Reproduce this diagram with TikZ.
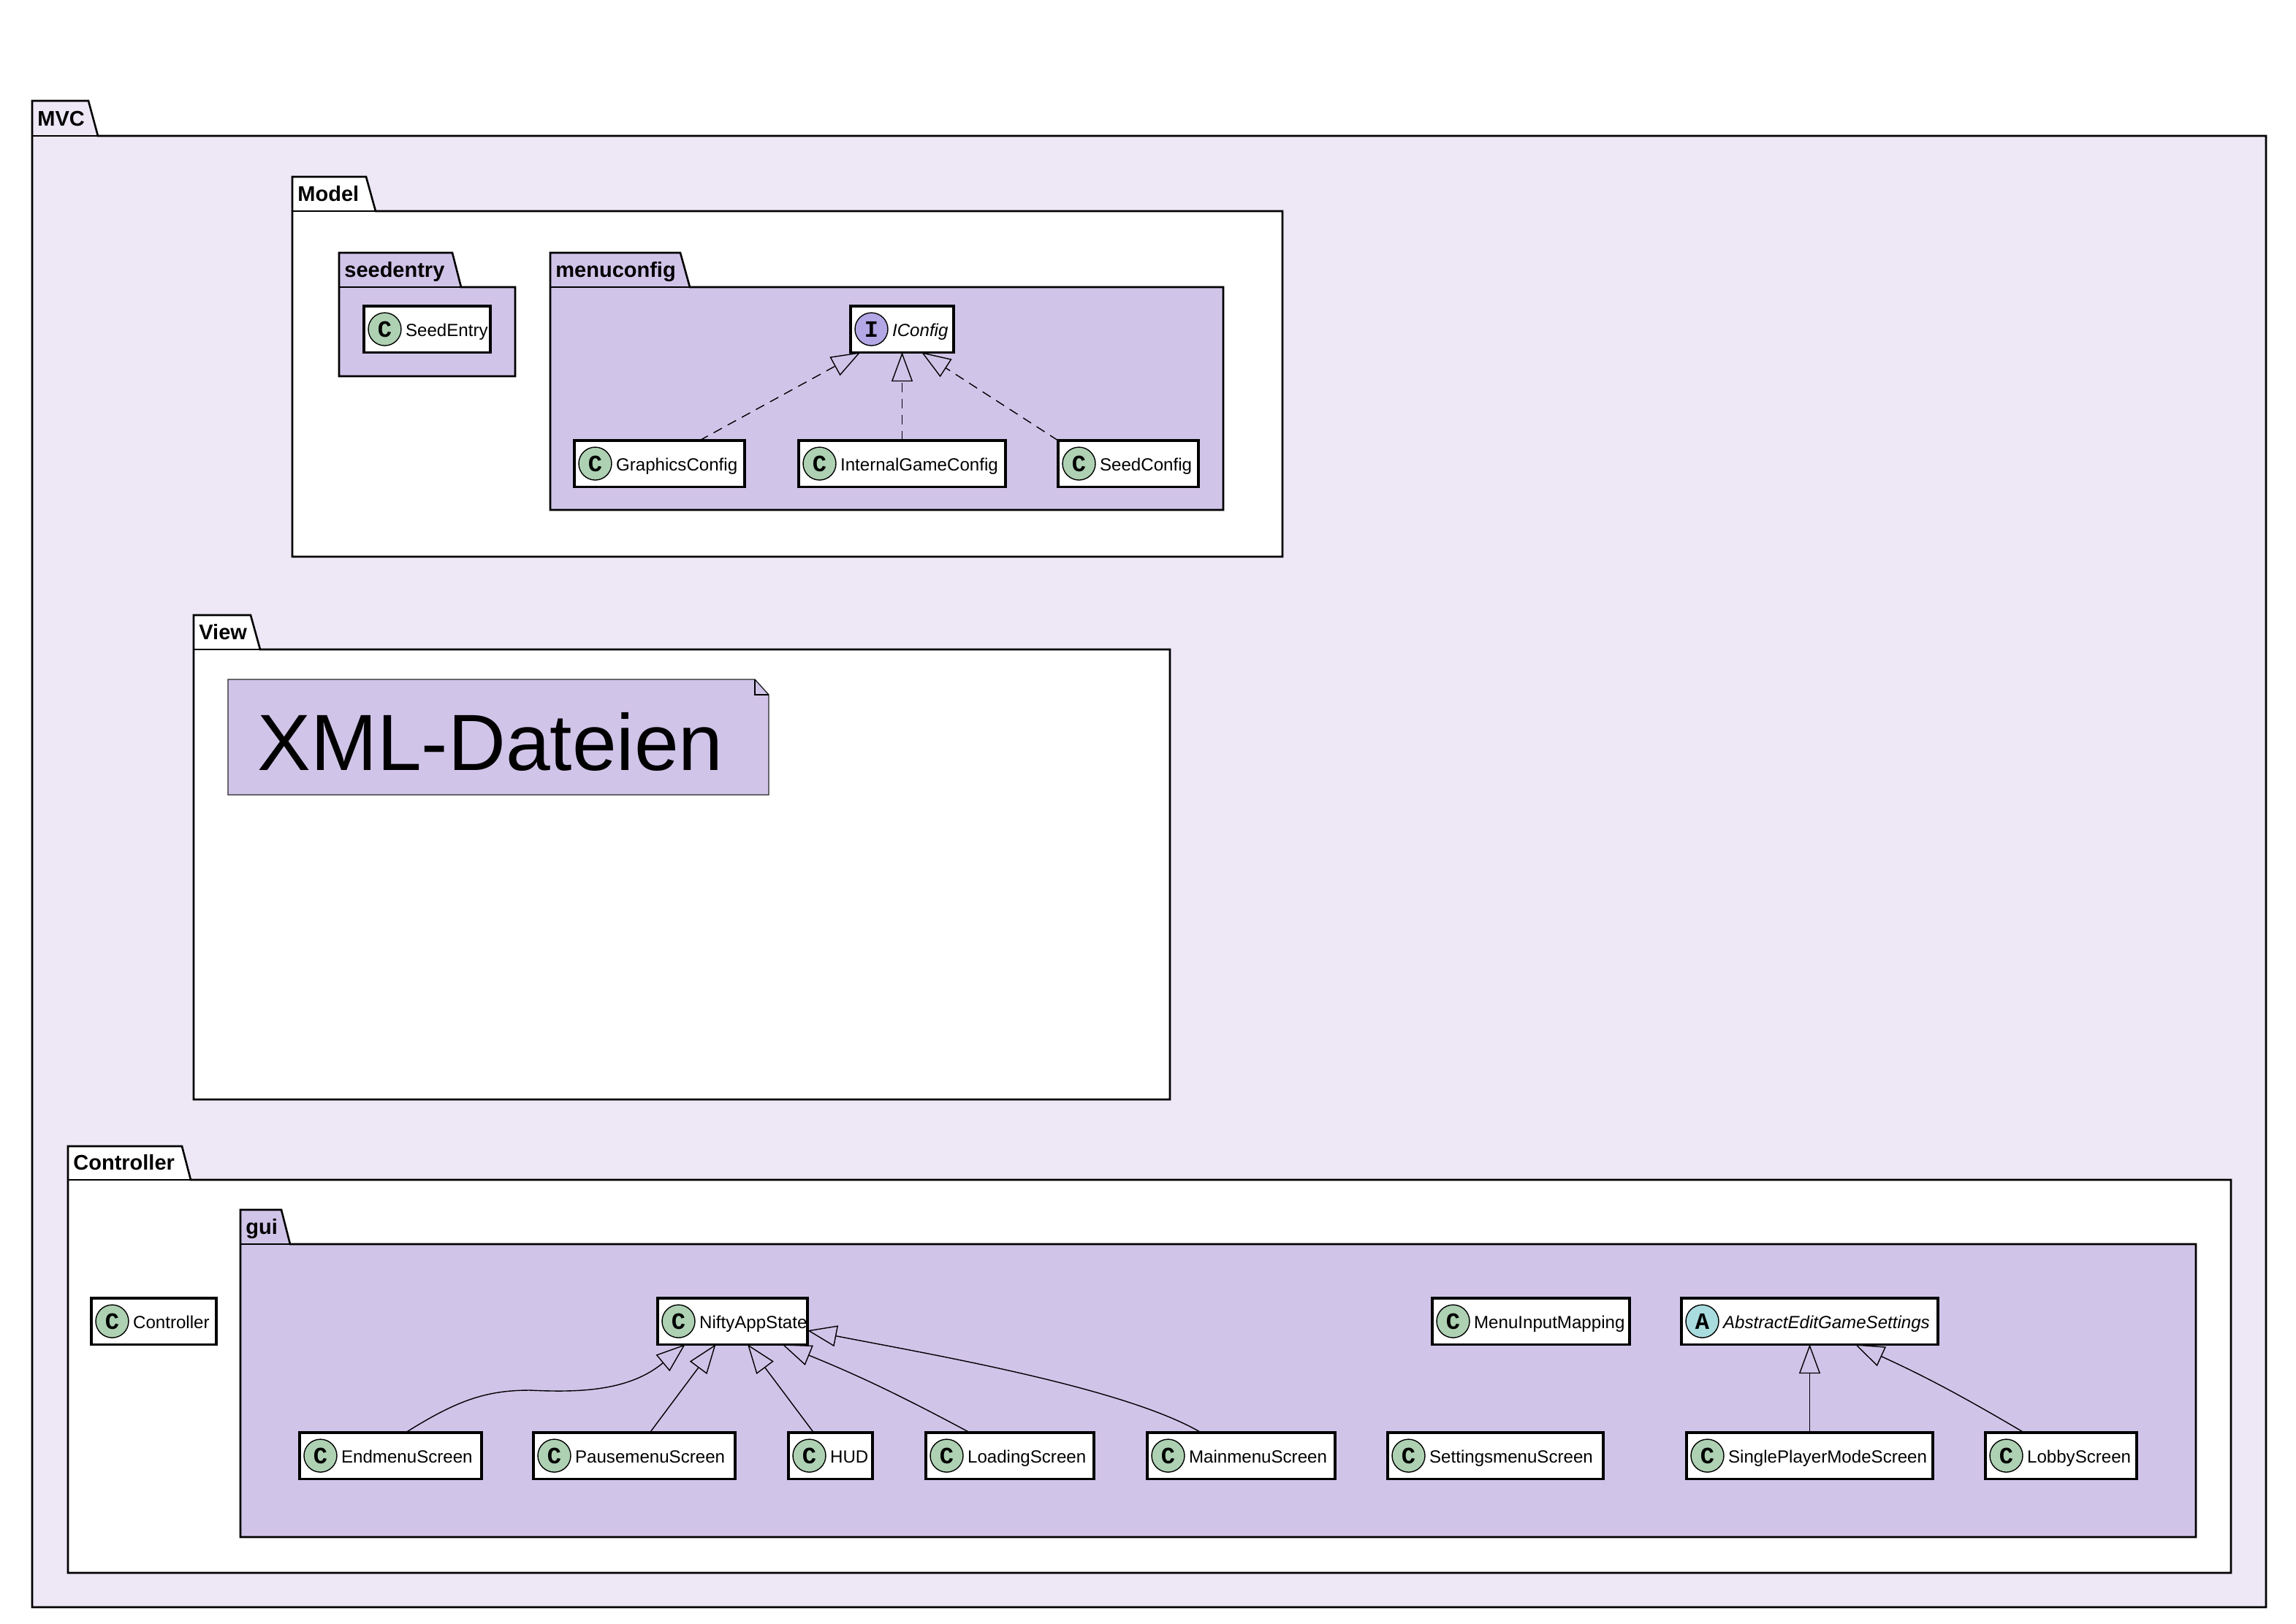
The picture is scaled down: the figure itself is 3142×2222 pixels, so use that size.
\documentclass[tikz,border=0pt]{standalone}
\usepackage{fontspec}
\setmainfont{Liberation Sans}
\newfontfamily\markfont{Liberation Mono}
\usepackage{tikz}
\usetikzlibrary{calc,positioning,arrows.meta}
\tikzset{>={Triangle[open,length=20pt,width=14.5pt]}}
\definecolor{mvcviolet}{HTML}{EDE7F6}
\definecolor{guiviolet}{HTML}{D1C4E9}
\definecolor{classgreen}{HTML}{ADD1B2}
\definecolor{ifaceblue}{HTML}{B4A7E5}
\definecolor{abstractblue}{HTML}{A9DCDF}
\tikzset{
  pkgline/.style={draw=black,line width=1.3pt,line join=miter},
  pkgtitle/.style={anchor=base west,inner sep=0pt,font=\fontsize{14.5}{17}\bfseries\selectfont},
  classbox/.style={draw=black,fill=white,line width=1.55pt,outer sep=0pt,inner sep=0pt,minimum height=31.6pt},
  classname/.style={inner sep=0pt,text height=12pt,text depth=2.6pt,font=\fontsize{12.05}{14}\selectfont},
  classmark/.style={circle,draw=black,line width=0.7pt,minimum size=22.5pt,inner sep=0pt,
    font=\markfont\fontsize{16}{16}\bfseries\selectfont},
  greenmark/.style={classmark,fill=classgreen},
  ifacemark/.style={classmark,fill=ifaceblue},
  abstractmark/.style={classmark,fill=abstractblue},
  extends/.style={->,draw=black,line width=0.7pt},
  implements/.style={extends,dash pattern=on 6.5pt off 4.5pt}
}
% id, left, right, tab top, body top, bottom, tab top right, tab bottom right, fill (title = id)
\newcommand{\packagebox}[9]{%
  \draw[pkgline,fill=#9] (#2,#4) -- (#7,#4) -- (#8,#5) -- (#3,#5) -- (#3,#6) -- (#2,#6) -- cycle;
  \draw[pkgline] (#2,#5) -- (#8,#5);
  \node[pkgtitle] (#1) at ($(#2,#5)+(7,-14)$) {#1};
}
% id, left, right, top, mark style, letter, text
\newcommand{\classnode}[7]{%
  \pgfmathsetmacro{\boxw}{(#3-#2-2)/2}
  \node[classbox,minimum width=\boxw pt,anchor=north west] (#1) at ($(#2,#4)+(1,1)$) {};
  \node[#5] (#1-c) at ($(#1.west)+(28.5,0)$) {#6};
  \node[classname,right=2.5pt of #1-c] (#1-t) {#7};
}
\begin{document}
\begin{tikzpicture}[x=0.5pt,y=-0.5pt]
  \useasboundingbox (0,0) rectangle (3142,2222);
  % packages
  \packagebox{MVC}{44}{3101}{138}{186}{2200}{121}{134}{mvcviolet}
  \packagebox{Model}{400}{1755}{242}{289}{762}{501}{514}{white}
  \packagebox{seedentry}{464}{705}{346}{393}{515}{619}{631}{guiviolet}
  \packagebox{menuconfig}{753}{1674}{346}{393}{698}{931}{944}{guiviolet}
  \packagebox{View}{265}{1601}{842}{889}{1505}{343}{356}{white}
  \packagebox{Controller}{93}{3053}{1569}{1615}{2153}{249}{261}{white}
  \packagebox{gui}{329}{3005}{1656}{1703}{2104}{385}{397}{guiviolet}
  % note
  \draw[draw=black!85,line width=0.7pt,fill=guiviolet]
    (312,930) -- (1033,930) -- (1052,951) -- (1052,1088) -- (312,1088) -- cycle;
  \draw[draw=black,line width=0.7pt] (1033,930) -- (1033,951) -- (1052,951);
  \node[anchor=base west,inner sep=0pt,font=\fontsize{54.6}{60}\selectfont] (xmlnote) at (352,1054) {XML-Dateien};
  % classes
  \foreach \id/\xl/\xr/\yt in {SeedEntry/497/672/418,GraphicsConfig/785/1020/602,InternalGameConfig/1092/1377/602,SeedConfig/1447/1641/602}
  {
    \classnode{\id}{\xl}{\xr}{\yt}{greenmark}{C}{\id}
  }
  \classnode{IConfig}{1163}{1306}{418}{ifacemark}{I}{\itshape IConfig}
  \classnode{Controller-class}{124}{297}{1776}{greenmark}{C}{Controller}
  \classnode{NiftyAppState}{899}{1106}{1776}{greenmark}{C}{NiftyAppState}
  \classnode{MenuInputMapping}{1959}{2231}{1776}{greenmark}{C}{MenuInputMapping}
  \classnode{AbstractEditGameSettings}{2300}{2653}{1776}{abstractmark}{A}{\itshape AbstractEditGameSettings}
  \foreach \id/\xl/\xr in {EndmenuScreen/409/660,PausemenuScreen/729/1007,HUD/1078/1195,LoadingScreen/1266/1498,
    MainmenuScreen/1569/1828,SettingsmenuScreen/1898/2195,SinglePlayerModeScreen/2307/2646,LobbyScreen/2716/2925}
  {
    \classnode{\id}{\xl}{\xr}{1960}{greenmark}{C}{\id}
  }
  % connectors
  \draw[implements] (GraphicsConfig.30) -- (IConfig.209);
  \draw[implements] (InternalGameConfig.north) -- (IConfig.south);
  \draw[implements] (SeedConfig.north west) -- (IConfig.310);
  \draw[extends] (EndmenuScreen.57) .. controls (625,1917) and (665,1903) .. (725,1903)
    .. controls (790,1906) and (860,1905) .. (NiftyAppState.206);
  \draw[extends] (PausemenuScreen.56) -- (NiftyAppState.234);
  \draw[extends] (HUD.126) -- (NiftyAppState.303);
  \draw[extends] (LoadingScreen.150) to[bend right=3] (NiftyAppState.335);
  \draw[extends] (MainmenuScreen.150) .. controls (1540,1900) and (1280,1855) .. (NiftyAppState.353);
  \draw[extends] (SinglePlayerModeScreen.north) -- (AbstractEditGameSettings.south);
  \draw[extends] (LobbyScreen.148) to[bend right=3] (AbstractEditGameSettings.333);
\end{tikzpicture}
\end{document}
